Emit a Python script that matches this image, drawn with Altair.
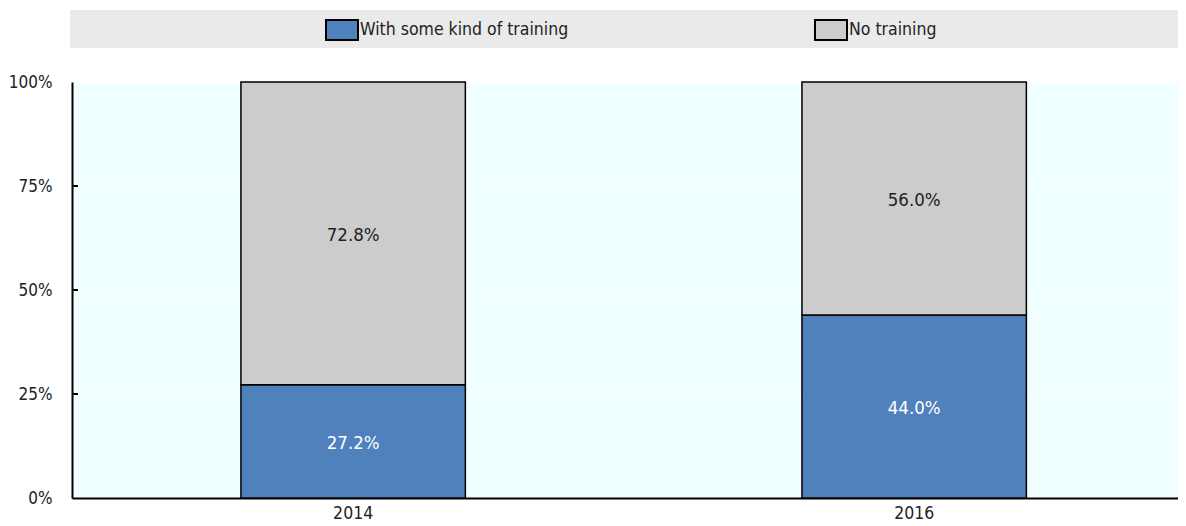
import altair as alt
import pandas as pd

years = ["2014", "2016"]
series = ["With some kind of training", "No training"]
with_training = [27.2, 44.0]
no_training = [72.8, 56.0]
y_ticks = [25, 50, 75]
colors = ["#4F81BD", "#CCCCCC"]
text_colors = ["#FFFFFF", "#222222"]

rows = []
for i, yr in enumerate(years):
    rows.append({"year": yr, "series": series[0], "value": with_training[i], "order": 0})
    rows.append({"year": yr, "series": series[1], "value": no_training[i], "order": 1})
df = pd.DataFrame(rows)

FONT = "DejaVu Sans Condensed, Liberation Sans Narrow, sans-serif"
W, H = 1106, 416

base = alt.Chart(df)

bg = alt.Chart(alt.Data(values=[{"a": 1}])).mark_rect(color="#EAEAEA").encode(
    x=alt.value(-2), x2=alt.value(W), y=alt.value(-72), y2=alt.value(-34)
)

bars = base.mark_bar(stroke="black", strokeWidth=1.5).encode(
    x=alt.X("year:N", sort=years,
            scale=alt.Scale(paddingInner=0.6, paddingOuter=0.2857, align=0.527),
            axis=alt.Axis(title=None, labelAngle=0, ticks=False, domainColor="black",
                          domainWidth=2, labelFontSize=17.5, labelFont=FONT,
                          labelColor="#222222", labelPadding=6)),
    y=alt.Y("value:Q", stack="zero",
            scale=alt.Scale(domain=[0, 100], nice=False),
            axis=alt.Axis(title=None, values=[0, 25, 50, 75, 100],
                          labelExpr="datum.value + '%'", ticks=False,
                          domainColor="black", domainWidth=2, gridColor="white",
                          gridWidth=1, labelFontSize=17, labelFont=FONT,
                          labelColor="#222222", labelPadding=20)),
    color=alt.Color("series:N", sort=series,
                    scale=alt.Scale(domain=series, range=colors),
                    legend=alt.Legend(title=None, orient="none", legendX=259, legendY=-63,
                                      direction="horizontal", columns=2,
                                      columnPadding=242,
                                      symbolType="M-1.6,-1H1.6V1H-1.6Z", symbolSize=400,
                                      symbolStrokeColor="black", symbolStrokeWidth=2,
                                      labelFont=FONT, labelFontSize=17.5,
                                      labelColor="#222222", labelOffset=7,
                                      labelLimit=400)),
    order=alt.Order("order:Q"),
)

texts = base.transform_window(
    cum="sum(value)", groupby=["year"], sort=[alt.SortField("order")], frame=[None, 0]
).transform_calculate(
    mid="datum.cum - datum.value / 2",
    label="format(datum.value, '.1f') + '%'",
).mark_text(font=FONT, fontSize=18.5, dy=2).encode(
    x=alt.X("year:N", sort=years),
    y=alt.Y("mid:Q"),
    text="label:N",
    color=alt.Color("series:N", scale=alt.Scale(domain=series, range=text_colors), legend=None),
)

ticks = alt.Chart(pd.DataFrame({"t": y_ticks})).mark_rule(
    color="black", strokeWidth=2
).encode(y=alt.Y("t:Q"), x=alt.value(0), x2=alt.value(6))

chart = alt.layer(bg, bars, texts, ticks).resolve_scale(color="independent").properties(
    width=W, height=H, padding={"top": 2, "left": 0, "right": 0, "bottom": 0}
).configure(background="white").configure_view(fill="#F0FFFF", stroke=None)

chart.save("out.html", embed_options={"renderer": "svg", "actions": False})
